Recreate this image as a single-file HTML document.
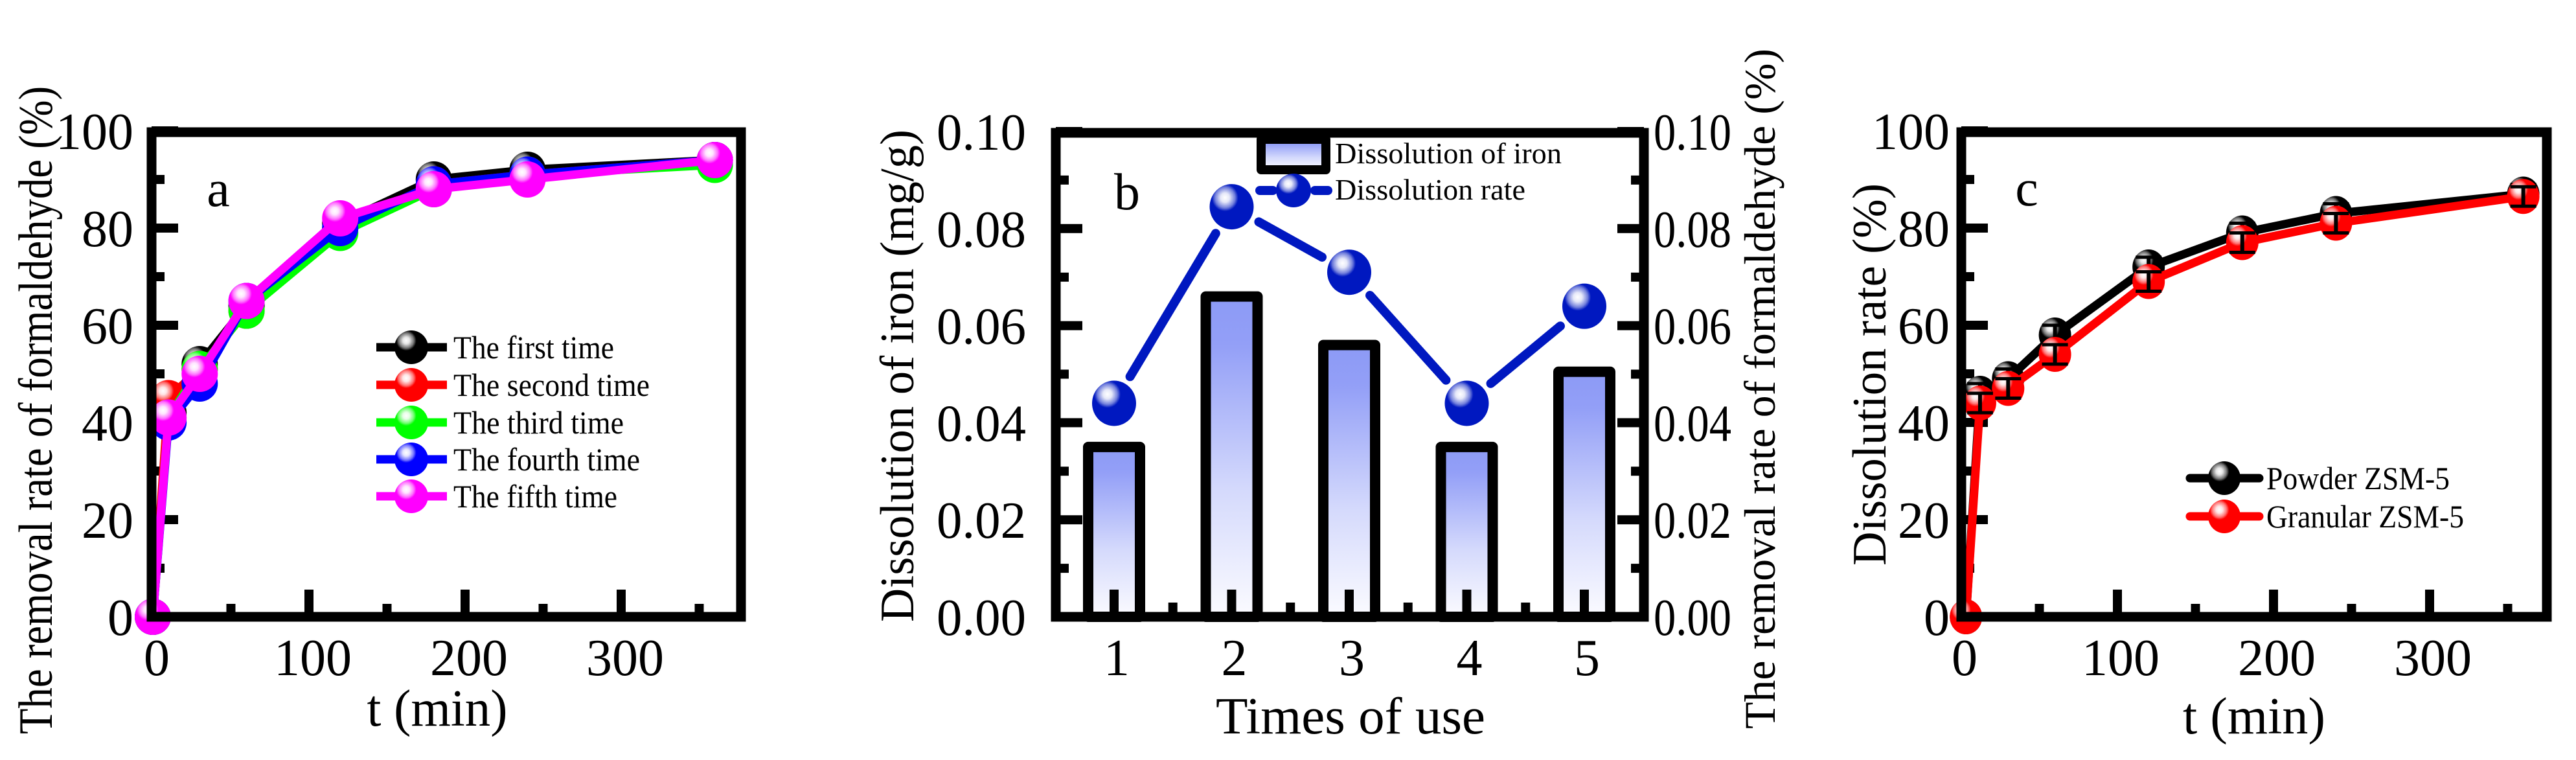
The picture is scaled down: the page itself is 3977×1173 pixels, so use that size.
<!DOCTYPE html>
<html><head><meta charset="utf-8"><style>
html,body{margin:0;padding:0;background:#fff}
svg{display:block}
svg text{font-family:"Liberation Serif","Times New Roman",serif;fill:#000}
</style></head><body>
<svg id="fig" width="3977" height="1173" viewBox="0 0 3977 1173" xmlns="http://www.w3.org/2000/svg" font-family="Liberation Serif, serif">
<defs>
<radialGradient id="hl" cx="0.35" cy="0.3" r="0.5">
<stop offset="0" stop-color="#fff" stop-opacity="1"/>
<stop offset="0.2" stop-color="#fff" stop-opacity="0.9"/>
<stop offset="0.45" stop-color="#fff" stop-opacity="0.45"/>
<stop offset="0.6" stop-color="#fff" stop-opacity="0"/>
</radialGradient>
<linearGradient id="barg" x1="0" y1="0" x2="0" y2="1">
<stop offset="0" stop-color="#8c9af6"/>
<stop offset="0.15" stop-color="#939ff7"/>
<stop offset="0.6" stop-color="#d4d9fc"/>
<stop offset="1" stop-color="#fbfbff"/>
</linearGradient>
</defs>
<g id="root"></g>
</svg>
<script>
// ---------- Panel a data ----------
const aTimes = [0, 10, 30, 60, 120, 180, 240, 360];
const aFirst = [0, 42, 52, 64, 81, 90, 92, 94];
const aSecond = [0, 45, 51, 63, 80, 89, 91, 94];
const aThird = [0, 41, 51, 63, 79, 88, 91, 93];
const aFourth = [0, 40, 48, 65, 80, 89, 91, 94];
const aFifth = [0, 41, 50, 65, 82, 88, 90, 94];
const aLabels = ["The first time", "The second time", "The third time", "The fourth time", "The fifth time"];
const aTicksX = [0, 100, 200, 300];
const aTicksY = [0, 20, 40, 60, 80, 100];
// ---------- Panel b data ----------
const bCats = [1, 2, 3, 4, 5];
const bIron = [0.035, 0.066, 0.056, 0.035, 0.0505];
const bRate = [0.044, 0.0845, 0.071, 0.044, 0.064];
const bTicksY = ["0.00", "0.02", "0.04", "0.06", "0.08", "0.10"];
// ---------- Panel c data ----------
const cTimes = [3, 12, 30, 60, 120, 180, 240, 360];
const cPowder = [0, 46, 49, 58, 72, 79, 83, 87];
const cGranular = [0, 44, 47, 54, 69, 77, 81, 86.5];
const cPowderErr = [0, 2, 2, 2, 2, 2, 2, 2];
const cGranErr = [0, 2, 2, 2, 2, 2, 2, 2];
const cLabels = ["Powder ZSM-5", "Granular ZSM-5"];
const cTicksX = [0, 100, 200, 300];
const cTicksY = [0, 20, 40, 60, 80, 100];

const NS = "http://www.w3.org/2000/svg";
const root = document.getElementById("root");
function el(tag, attrs, parent) {
  const e = document.createElementNS(NS, tag);
  for (const k in attrs) e.setAttribute(k, attrs[k]);
  (parent || root).appendChild(e);
  return e;
}
function txt(s, x, y, size, anchor, parent, extra) {
  const t = el("text", Object.assign({x: x, y: y, "font-size": size, "text-anchor": anchor || "start", "font-family": "Liberation Serif, serif"}, extra || {}), parent);
  t.textContent = s;
  return t;
}
function marker(g, cx, cy, rx, ry, color) {
  el("ellipse", {cx: cx, cy: cy, rx: rx, ry: ry, fill: color}, g);
  el("ellipse", {cx: cx, cy: cy, rx: rx, ry: ry, fill: "url(#hl)"}, g);
}

// ================= PANEL A =================
(function () {
  const L = 234, R = 1144, T = 204, B = 952;
  const xS = v => 236 + v * 2.41;
  const yS = v => 952 - v * 7.5;
  const g = el("g", {});
  
  
  for (let v = 0; v <= 100; v += 10) {
    const major = v % 20 === 0;
    const tk = el("line", {x1: L, x2: L + 7 + (major ? 34 : 13), y1: yS(v), y2: yS(v), stroke: "#000", "stroke-width": 14}, g);
    
    
  }
  for (let v = 50; v <= 350; v += 50) {
    const major = v % 100 === 0;
    const tk = el("line", {x1: xS(v), x2: xS(v), y1: B, y2: B - 7 - (major ? 35 : 13), stroke: "#000", "stroke-width": 14}, g);
    
    
  }
  const series = [aFirst, aSecond, aThird, aFourth, aFifth];
  const colors = ["#000000", "#ff0000", "#00ff00", "#0000ff", "#ff00ff"];
  series.forEach((s, i) => {
    const sg = el("g", {}, g);
    
    
    const pts = s.map((v, j) => xS(aTimes[j]) + "," + yS(v)).join(" ");
    el("polyline", {points: pts, fill: "none", stroke: colors[i], "stroke-width": 13, "stroke-linejoin": "round"}, sg);
    s.forEach((v, j) => marker(sg, xS(aTimes[j]), yS(v), 28, 28, colors[i]));
  });
  const fr = el("rect", {x: L, y: T, width: R - L, height: B - T, fill: "none", stroke: "#000", "stroke-width": 15}, g);
  
  
  aTicksY.forEach(v => {
    const t = txt(String(v), 206, yS(v) + 28, 80, "end", g);
    
    
  });
  aTicksX.forEach(v => {
    const t = txt(String(v), xS(v) + 6, 1042, 80, "middle", g);
    
    
  });
  const xt = txt("t (min)", 675, 1120, 80, "middle", g, {textLength: 217, lengthAdjust: "spacingAndGlyphs"});
  
  
  const yt = txt("The removal rate of formaldehyde (%)", 0, 0, 74, "middle", g, {textLength: 1000, lengthAdjust: "spacingAndGlyphs", transform: "translate(80,633) rotate(-90)"});
  
  
  const pl = txt("a", 337, 318, 80, "middle", g);
  
  
  const lens = [248, 303, 263, 288, 253];
  const rows = [536, 594, 652, 709, 766];
  aLabels.forEach((lab, i) => {
    const lg = el("g", {}, g);
    
    
    el("line", {x1: 581, x2: 690, y1: rows[i], y2: rows[i], stroke: colors[i], "stroke-width": 13}, lg);
    marker(lg, 635, rows[i], 26, 26, colors[i]);
    txt(lab, 700, rows[i] + 17, 50, "start", lg, {textLength: lens[i], lengthAdjust: "spacingAndGlyphs"});
  });
})();

// ================= PANEL B =================
(function () {
  const L = 1630, R = 2538, T = 205, B = 952;
  const xS = c => 1720 + (c - 1) * 181.5;
  const yS = v => 952 - v * 7490;
  const g = el("g", {});
  
  
  bIron.forEach((v, i) => {
    const b = el("rect", {x: xS(bCats[i]) - 40, y: yS(v), width: 80, height: B - yS(v), fill: "url(#barg)", stroke: "#000", "stroke-width": 16, "stroke-linejoin": "round"}, g);
    
    
  });
  for (let k = 0; k <= 10; k++) {
    const v = k * 0.01, major = k % 2 === 0;
    const len = 7 + (major ? 34 : 13);
    const t1 = el("line", {x1: L, x2: L + len, y1: yS(v), y2: yS(v), stroke: "#000", "stroke-width": 14}, g);
    
    
    const t2 = el("line", {x1: R, x2: R - len, y1: yS(v), y2: yS(v), stroke: "#000", "stroke-width": 14}, g);
    
    
  }
  bCats.forEach(c => {
    const tk = el("line", {x1: xS(c), x2: xS(c), y1: B, y2: B - 42, stroke: "#000", "stroke-width": 14}, g);
    
    
    if (c < 5) {
      const mt = el("line", {x1: xS(c + 0.5), x2: xS(c + 0.5), y1: B, y2: B - 22, stroke: "#000", "stroke-width": 14}, g);
      
      
    }
  });
  const lg = el("g", {}, g);
  
  
  const gap = 48;
  for (let i = 0; i < bRate.length - 1; i++) {
    const x1 = xS(bCats[i]), y1 = yS(bRate[i]), x2 = xS(bCats[i + 1]), y2 = yS(bRate[i + 1]);
    const d = Math.hypot(x2 - x1, y2 - y1), ux = (x2 - x1) / d, uy = (y2 - y1) / d;
    el("line", {x1: x1 + ux * gap, y1: y1 + uy * gap, x2: x2 - ux * gap, y2: y2 - uy * gap, stroke: "#0018c0", "stroke-width": 14, "stroke-linecap": "round"}, lg);
  }
  bRate.forEach((v, i) => marker(lg, xS(bCats[i]), yS(v), 34, 35, "#0018c0"));
  const fr = el("rect", {x: L, y: T, width: R - L, height: B - T, fill: "none", stroke: "#000", "stroke-width": 15}, g);
  
  
  bTicksY.forEach((s, k) => {
    const t = txt(s, 1584, yS(k * 0.02) + 28, 80, "end", g, {textLength: 138, lengthAdjust: "spacingAndGlyphs"});
    
    
    const t2 = txt(s, 2553, yS(k * 0.02) + 28, 80, "start", g, {textLength: 120, lengthAdjust: "spacingAndGlyphs"});
    
    
  });
  bCats.forEach(c => {
    const t = txt(String(c), xS(c) + 4, 1042, 80, "middle", g);
    
    
  });
  const xt = txt("Times of use", 2085, 1132, 80, "middle", g, {textLength: 416, lengthAdjust: "spacingAndGlyphs"});
  
  
  const yt = txt("Dissolution of iron (mg/g)", 0, 0, 74, "middle", g, {textLength: 760, lengthAdjust: "spacingAndGlyphs", transform: "translate(1410,580) rotate(-90)"});
  
  
  const yt2 = txt("The removal rate of formaldehyde (%)", 0, 0, 68, "middle", g, {textLength: 1050, lengthAdjust: "spacingAndGlyphs", transform: "translate(2740,600) rotate(-90)"});
  
  
  const pl = txt("b", 1740, 323, 80, "middle", g);
  
  
  const l1 = el("g", {}, g);
  
  
  el("rect", {x: 1947, y: 215, width: 100, height: 47, fill: "url(#barg)", stroke: "#000", "stroke-width": 14, "stroke-linejoin": "round"}, l1);
  txt("Dissolution of iron", 2061, 252, 46, "start", l1, {textLength: 350, lengthAdjust: "spacingAndGlyphs"});
  const l2 = el("g", {}, g);
  
  
  el("line", {x1: 1945, x2: 1965, y1: 294, y2: 294, stroke: "#0018c0", "stroke-width": 14, "stroke-linecap": "round"}, l2);
  el("line", {x1: 2030, x2: 2050, y1: 294, y2: 294, stroke: "#0018c0", "stroke-width": 14, "stroke-linecap": "round"}, l2);
  marker(l2, 1997, 294, 27, 26, "#0018c0");
  txt("Dissolution rate", 2061, 308, 46, "start", l2, {textLength: 294, lengthAdjust: "spacingAndGlyphs"});
})();

// ================= PANEL C =================
(function () {
  const L = 3028, R = 3932, T = 204, B = 952;
  const xS = v => 3028 + v * 2.41;
  const yS = v => 952 - v * 7.5;
  const g = el("g", {});
  
  
  for (let v = 0; v <= 100; v += 10) {
    const major = v % 20 === 0;
    const tk = el("line", {x1: L, x2: L + 7 + (major ? 34 : 13), y1: yS(v), y2: yS(v), stroke: "#000", "stroke-width": 14}, g);
    
    
  }
  for (let v = 50; v <= 350; v += 50) {
    const major = v % 100 === 0;
    const tk = el("line", {x1: xS(v), x2: xS(v), y1: B, y2: B - 7 - (major ? 35 : 13), stroke: "#000", "stroke-width": 14}, g);
    
    
  }
  const series = [cPowder, cGranular], errs = [cPowderErr, cGranErr];
  const colors = ["#000000", "#ff0000"];
  series.forEach((s, i) => {
    const sg = el("g", {}, g);
    
    
    const pts = s.map((v, j) => xS(cTimes[j]) + "," + yS(v)).join(" ");
    el("polyline", {points: pts, fill: "none", stroke: colors[i], "stroke-width": 13, "stroke-linejoin": "round"}, sg);
    s.forEach((v, j) => marker(sg, xS(cTimes[j]), yS(v), 25, 27, colors[i]));
    s.forEach((v, j) => {
      if (!errs[i][j]) return;
      const x = xS(cTimes[j]), y1 = yS(v + errs[i][j]), y2 = yS(v - errs[i][j]);
      el("line", {x1: x, x2: x, y1: y1, y2: y2, stroke: "#000", "stroke-width": 6}, sg);
      el("line", {x1: x - 20, x2: x + 20, y1: y1, y2: y1, stroke: "#000", "stroke-width": 5}, sg);
      el("line", {x1: x - 20, x2: x + 20, y1: y2, y2: y2, stroke: "#000", "stroke-width": 5}, sg);
    });
  });
  const fr = el("rect", {x: L, y: T, width: R - L, height: B - T, fill: "none", stroke: "#000", "stroke-width": 15}, g);
  
  
  cTicksY.forEach(v => {
    const t = txt(String(v), 3010, yS(v) + 28, 80, "end", g);
    
    
  });
  cTicksX.forEach(v => {
    const t = txt(String(v), xS(v) + 5, 1042, 80, "middle", g);
    
    
  });
  const xt = txt("t (min)", 3480, 1132, 80, "middle", g, {textLength: 220, lengthAdjust: "spacingAndGlyphs"});
  
  
  const yt = txt("Dissolution rate (%)", 0, 0, 74, "middle", g, {textLength: 590, lengthAdjust: "spacingAndGlyphs", transform: "translate(2911,578) rotate(-90)"});
  
  
  const pl = txt("c", 3129, 317, 80, "middle", g);
  
  
  const rows = [738, 797], lens = [283, 305];
  cLabels.forEach((lab, i) => {
    const lg = el("g", {}, g);
    
    
    el("line", {x1: 3381, x2: 3488, y1: rows[i], y2: rows[i], stroke: colors[i], "stroke-width": 13, "stroke-linecap": "round"}, lg);
    marker(lg, 3434, rows[i], 25, 26, colors[i]);
    txt(lab, 3499, rows[i] + 17, 50, "start", lg, {textLength: lens[i], lengthAdjust: "spacingAndGlyphs"});
  });
})();
</script>
</body></html>
